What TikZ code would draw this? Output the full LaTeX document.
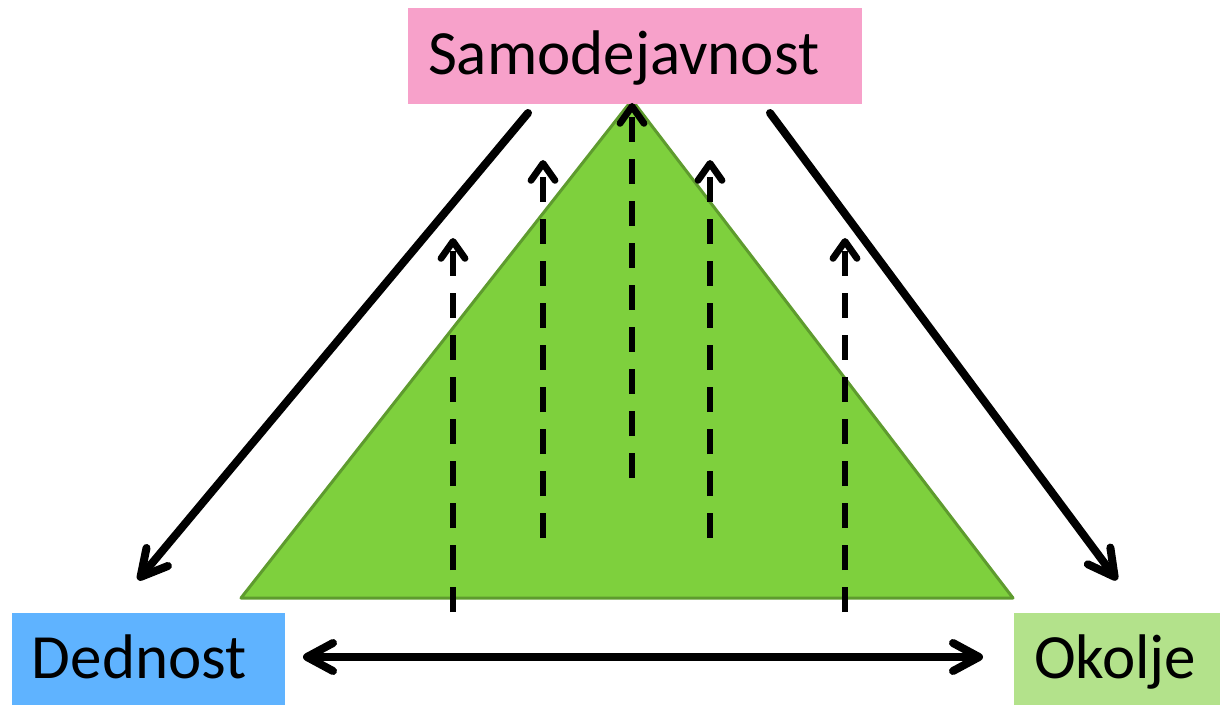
\documentclass[tikz,border=0pt]{standalone}
\usepackage{fontspec}
\setmainfont{Carlito}
\usepackage{tikz}
\usetikzlibrary{arrows.meta}
\definecolor{selfpink}{HTML}{F7A1CA}
\definecolor{herblue}{HTML}{5FB3FF}
\definecolor{envgreen}{HTML}{B3E28B}
\definecolor{trifill}{HTML}{7ED03D}
\definecolor{triline}{HTML}{5E9B2E}

\begin{document}
\begin{tikzpicture}[x=0.5pt,y=-0.5pt,
  factor/.style = {inner xsep=10pt,inner ysep=0pt,font=\fontsize{31.5}{38}\selectfont,
  text height=22pt,text depth=3pt,align=left},
  bigarrow/.style = {line width=4pt,line cap=round,-{Straight Barb[length=13pt,width=14pt,line cap=round,line join=round]}},
  twoway/.style = {line width=4pt,line cap=round,
  {Straight Barb[length=13pt,width=14pt,line cap=round,line join=round]}-{Straight Barb[length=13pt,width=14pt,line cap=round,line join=round]}},
  dasharrow/.style = {line width=3.4pt,dash pattern=on 12.5pt off 8.5pt,
  -{Straight Barb[length=8.5pt,width=12pt,line cap=round,line join=round]}}]
 \useasboundingbox (0,0) rectangle (1220,705);
 % triangle
 \coordinate (top) at (632,100);
 \coordinate (bl)  at (241,598);
 \coordinate (br)  at (1013,598);
 \filldraw[fill=trifill,draw=triline,line width=1.5pt,line join=round]
  (top) -- (bl) -- (br) -- cycle;
 % labels
 \node[factor,fill=selfpink,text width=207pt,minimum height=48pt] (self) at (635,56) {Samodejavnost};
 \node[factor,fill=herblue,text width=116.5pt,minimum height=46pt] (her) at (148.5,659) {Dednost};
 \node[factor,fill=envgreen,text width=83pt,minimum height=46pt] (env) at (1117,659) {Okolje};
 % arrows
 \coordinate (s1) at (528,113);
 \coordinate (h1) at (138,580);
 \coordinate (s2) at (770,113);
 \coordinate (e1) at (1117,580);
 \coordinate (h2) at (303,657);
 \coordinate (e2) at (983,657);
 \draw[bigarrow] (s1) -- (h1);
 \draw[bigarrow] (s2) -- (e1);
 \draw[twoway] (h2) -- (e2);
 % dashed arrows
 \foreach \x/\a/\b [count=\i] in {453/612/238, 543/538/160, 632/478/103, 710/538/160, 845/612/238}{
  \coordinate (d\i a) at (\x,\a);
  \coordinate (d\i b) at (\x,\b);
  \draw[dasharrow] (d\i a) -- (d\i b);
 }
\end{tikzpicture}
\end{document}
